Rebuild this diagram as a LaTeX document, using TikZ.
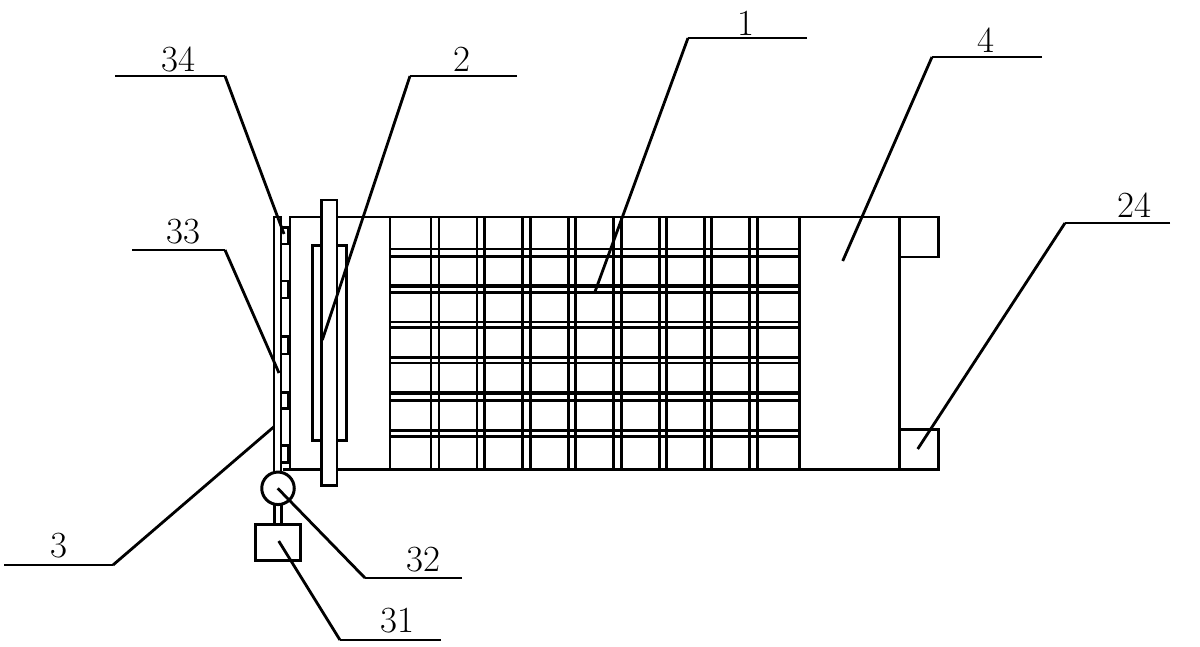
\documentclass[tikz,border=0pt]{standalone}
\begin{document}
\begin{tikzpicture}[x=0.02cm,y=-0.02cm,
  part/.style={draw=black,line width=1.7pt,fill=white},
  gridline/.style={draw=black,line width=1.7pt},
  thickline/.style={draw=black,line width=2.3pt},
  leader/.style={draw=black,line width=1.6pt},
  shelf/.style={draw=black,line width=1.3pt},
  tag/.style={font=\fontsize{21}{21}\selectfont,inner sep=0pt,text=black}]
\useasboundingbox (0,0) rectangle (1200,646);
% main frame
\draw[gridline] (283,469) -- (938,469) -- (938,429) -- (899,429);
\draw[gridline] (899,257) -- (938,257) -- (938,217) -- (290,217) -- (290,469);
\draw[gridline] (799,217) -- (799,469);
\draw[gridline] (899,217) -- (899,469);
% grid
\foreach \x in {390,431,477,522.7,568,613,659,704,749}
  \draw[gridline] (\x,217) -- (\x,469);
\foreach \x in {439,484.5,530,575,621,666,711,757}
  \draw[gridline] (\x,217) -- (\x,469);
\foreach \y in {249,256.7,292.7,322,327.3,357.7,363,400,430,436.7}
  \draw[gridline] (390,\y) -- (799,\y);
\foreach \y in {285.7,393.3}
  \draw[thickline] (390,\y) -- (799,\y);
% plate 2
\draw[part] (312.3,245.3) rectangle (346.3,440.3);
\draw[part] (321.7,200) rectangle (337,485.3);
% rod 33 and bumps 34
\draw[part] (274,217) rectangle (281,476);
\foreach \y/\z in {227.7/244,281/298,336.7/354,392.3/408,445.7/462}
  \draw[part] (281,\y) rectangle (288,\z);
% lower assembly
\draw[part] (274.3,500) rectangle (281.3,525);
\node[draw=black,line width=1.7pt,fill=white,circle,minimum size=18.5pt,inner sep=0pt] (wheel) at (278,488.3) {};
\node[draw=black,line width=1.7pt,fill=white,minimum width=45.7*0.02cm,minimum height=36*0.02cm,inner sep=0pt] (box) at (277.9,542.3) {};
% leaders
\foreach \n/\t/\ax/\ay/\bx/\by/\cx/\cy/\lx/\ly in {
  34/34/115/76/225/76/284/234/178/59,
  2/2/517/76/410/76/322.3/340/462/59,
  1/1/807/38/688/38/595/291.7/746/23,
  4/4/1042/57/932/57/842.7/261/986/40,
  24/24/1170/223/1065/223/917.7/449/1134/205,
  33/33/132/250/225/250/279/373/183/232,
  3/3/4/565/113/565/274/426.7/59/546,
  32/32/462/578/365/578/277.7/488.3/423/560,
  31/31/441/640/340/640/278.7/541/397/621}{
  \coordinate (s\n) at (\ax,\ay);
  \coordinate (k\n) at (\bx,\by);
  \coordinate (e\n) at (\cx,\cy);
  \draw[shelf] (s\n) -- (k\n);
  \draw[leader] (k\n) -- (e\n);
  \node[tag] (t\n) at (\lx,\ly) {\t};
}
\end{tikzpicture}
\end{document}
